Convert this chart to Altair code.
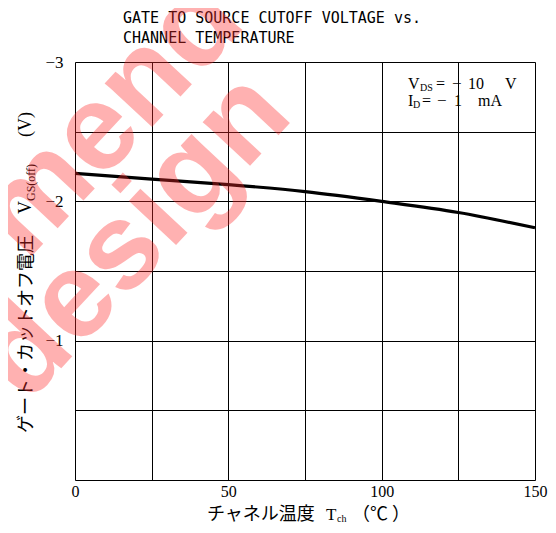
import altair as alt
import pandas as pd

# ---- data ----
temps = [0, 25, 50, 75, 100, 125, 150]
vgs_off = [-2.20, -2.16, -2.12, -2.07, -2.00, -1.92, -1.81]
x_ticks = [0, 25, 50, 75, 100, 125, 150]
y_ticks = [-3.0, -2.5, -2.0, -1.5, -1.0, -0.5, 0.0]

W, H = 460, 418
SERIF = "Liberation Serif"
JP = "Noto Sans CJK JP"

df = pd.DataFrame({"t": temps, "v": vgs_off})
one = pd.DataFrame({"a": [0]})

x_enc = alt.X("t:Q", scale=alt.Scale(domain=[0, 150], nice=False),
              axis=alt.Axis(values=x_ticks, title=None, grid=True,
                            labelExpr="datum.value % 50 == 0 ? datum.label : ''",
                            labelFont=SERIF, labelFontSize=16, labelColor="black",
                            labelPadding=3, labelFlush=False, ticks=False, domain=False,
                            gridColor="black", gridWidth=1, gridOpacity=1))
y_enc = alt.Y("v:Q", scale=alt.Scale(domain=[0, -3], nice=False),
              axis=alt.Axis(values=y_ticks, title=None, grid=True,
                            labelExpr="(datum.value % 1 == 0 && datum.value != 0) ? '\u2212' + abs(datum.value) : ''",
                            labelFont=SERIF, labelFontSize=17, labelColor="black",
                            labelPadding=12, labelFlush=False, ticks=False, domain=False,
                            gridColor="black", gridWidth=1, gridOpacity=1))

line = alt.Chart(df).mark_line(color="black", strokeWidth=3.2, interpolate="monotone").encode(
    x=x_enc, y=y_enc)


def txt(s, x, y, size=15, font=SERIF, angle=0, align="left", baseline="alphabetic",
        color="black", weight="normal", opacity=1.0):
    return alt.Chart(one).mark_text(
        text=s, font=font, fontSize=size, angle=angle, align=align, baseline=baseline,
        color=color, fontWeight=weight, opacity=opacity
    ).encode(x=alt.value(x), y=alt.value(y))


ox, oy = 75, 62  # plot origin on page
layers = [line]

# Title
layers.append(txt("GATE TO SOURCE CUTOFF VOLTAGE vs.", 123 - ox, 23 - oy, 15, "DejaVu Sans Mono"))
layers.append(txt("CHANNEL TEMPERATURE", 123 - ox, 43 - oy, 15, "DejaVu Sans Mono"))

# Condition box text
layers.append(txt("V", 408 - ox, 89 - oy, 16))
layers.append(txt("DS", 420 - ox, 91 - oy, 10))
layers.append(txt("=", 436 - ox, 89 - oy, 16))
layers.append(txt("\u2212", 452 - ox, 89 - oy, 17))
layers.append(txt("10", 468 - ox, 89 - oy, 16))
layers.append(txt("V", 505 - ox, 89 - oy, 16))
layers.append(txt("I", 408 - ox, 106 - oy, 16))
layers.append(txt("D", 413 - ox, 108 - oy, 10))
layers.append(txt("=", 422 - ox, 106 - oy, 16))
layers.append(txt("\u2212", 437 - ox, 106 - oy, 17))
layers.append(txt("1", 454 - ox, 106 - oy, 16))
layers.append(txt("mA", 478 - ox, 106 - oy, 16))

# X axis title
layers.append(txt("チャネル温度", 207 - ox, 520 - oy, 18, JP))
layers.append(txt("T", 326 - ox, 520 - oy, 17))
layers.append(txt("ch", 337 - ox, 522 - oy, 10))
layers.append(txt("（\u2103 ）", 352 - ox, 520 - oy, 18, JP))

# Y axis title (rotated)
layers.append(txt("ゲート・カットオフ電圧", 32 - ox, 433 - oy, 18, JP, angle=270))
layers.append(txt("V", 31 - ox, 214 - oy, 18, angle=270))
layers.append(txt("GS(off)", 35 - ox, 201 - oy, 12, angle=270))
layers.append(txt("(V)", 31 - ox, 137 - oy, 18, angle=270))

# Watermark
layers.append(txt("mend", 110 - ox, 118 - oy, 122, "Liberation Sans", angle=313,
                  align="center", baseline="middle", color="#ff2a2a", weight="bold", opacity=0.36))
layers.append(txt("design", 134 - ox, 236 - oy, 122, "Liberation Sans", angle=313,
                  align="center", baseline="middle", color="#ff2a2a", weight="bold", opacity=0.36))

chart = alt.layer(*layers).properties(
    width=W, height=H,
    autosize=alt.AutoSizeParams(type="none"),
    padding={"left": 67, "top": 54, "right": 13, "bottom": 45},
).configure_view(stroke="black", strokeWidth=2).configure(background="white")

chart.save("out.html", embed_options={"renderer": "svg", "actions": False})
